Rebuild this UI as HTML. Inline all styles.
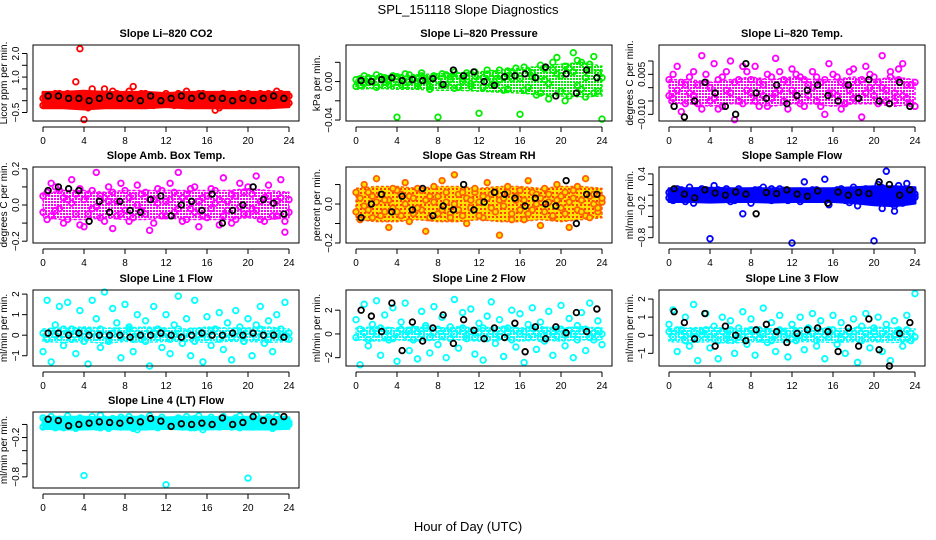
<!DOCTYPE html>
<html><head><meta charset="utf-8"><style>
html,body{margin:0;padding:0;background:#fff;}
svg{display:block;font-family:"Liberation Sans",Arial,sans-serif;}
</style></head><body>
<svg id="chart" width="936" height="540" viewBox="0 0 936 540" xmlns="http://www.w3.org/2000/svg">
<defs>
<pattern id="rhpat" width="4" height="4" patternUnits="userSpaceOnUse"><rect width="4" height="4" fill="#ffe000"/><rect width="2" height="2" fill="#ff4000"/></pattern>
<pattern id="chk-green" width="3" height="3" patternUnits="userSpaceOnUse"><rect width="2" height="2" fill="#00ee00"/></pattern>
<pattern id="chk-magenta" width="3" height="3" patternUnits="userSpaceOnUse"><rect width="2" height="2" fill="#ff00ff"/></pattern>
<pattern id="chk-cyan" width="3" height="3" patternUnits="userSpaceOnUse"><rect width="2" height="2" fill="#00ffff"/></pattern>
</defs>
<text x="468" y="14" text-anchor="middle" font-size="13">SPL_151118  Slope Diagnostics</text>
<text x="468" y="531" text-anchor="middle" font-size="13">Hour of Day (UTC)</text>
</svg>
<script>
const hoursA = [0,0.4,0.8,1.2,1.6,2,2.4,2.8,3.2,3.6,4,4.4,4.8,5.2,5.6,6,6.4,6.8,7.2,7.6,8,8.4,8.8,9.2,9.6,10,10.4,10.8,11.2,11.6,12,12.4,12.8,13.2,13.6,14,14.4,14.8,15.2,15.6,16,16.4,16.8,17.2,17.6,18,18.4,18.8,19.2,19.6,20,20.4,20.8,21.2,21.6,22,22.4,22.8,23.2,23.6,24];
const hoursBlack = [0.5,1.5,2.5,3.5,4.5,5.5,6.5,7.5,8.5,9.5,10.5,11.5,12.5,13.5,14.5,15.5,16.5,17.5,18.5,19.5,20.5,21.5,22.5,23.5];
const hoursBand = [0,2,4,6,8,10,12,14,16,18,20,22,24];
const xTicks = [0,4,8,12,16,20,24];

const co2A = [0.1,-0.1,0.2,0.0,0.3,-0.2,0.1,0.2,-0.1,2.2,-0.8,0.3,0.5,0.0,0.2,-0.1,0.1,0.4,0.0,-0.2,0.2,0.1,0.6,-0.1,0.3,0.0,0.2,-0.2,0.1,0.0,0.3,-0.1,0.2,0.0,0.1,0.4,-0.2,0.1,0.0,0.3,-0.1,0.2,0.1,-0.3,0.0,0.2,0.1,-0.1,0.3,0.0,0.2,-0.1,0.1,0.3,0.0,-0.2,0.2,0.4,0.1,0.0,0.2];
const co2B = [-0.2,0.2,0.0,0.3,-0.1,0.1,0.3,-0.2,0.8,0.0,0.1,-0.3,0.2,0.0,-0.1,0.5,0.2,-0.1,0.3,0.1,-0.1,0.4,0.0,0.2,-0.2,0.3,0.1,0.0,-0.1,0.2,0.0,0.2,-0.2,0.3,0.1,-0.1,0.2,0.0,0.3,-0.1,0.2,0.0,-0.4,0.1,0.3,-0.1,0.2,0.0,0.1,-0.2,0.3,0.1,-0.1,0.2,0.0,0.3,-0.1,0.1,0.3,0.1,-0.1];
const co2Black = [0.2,0.2,0.1,0.1,0.0,0.1,0.2,0.1,0.1,0.0,0.2,0.0,0.1,0.2,0.1,0.2,0.1,0.1,0.0,0.1,0.0,0.1,0.2,0.1];
const co2Lo = [-0.3,-0.3,-0.35,-0.3,-0.3,-0.3,-0.25,-0.3,-0.3,-0.3,-0.3,-0.3,-0.25];
const co2Hi = [0.35,0.35,0.4,0.35,0.35,0.35,0.3,0.35,0.35,0.35,0.35,0.35,0.35];

const presA = [-0.005,0.003,-0.002,0.004,0.000,-0.006,0.005,0.002,-0.003,0.006,-0.037,0.004,-0.004,0.007,0.002,-0.005,0.006,0.001,-0.008,0.004,-0.037,0.008,-0.003,0.005,0.010,-0.006,0.003,0.009,-0.002,0.006,-0.033,0.004,0.012,-0.004,0.008,0.002,-0.009,0.011,0.003,0.006,-0.034,0.015,-0.006,0.009,0.004,-0.012,0.013,-0.002,0.020,0.008,-0.010,0.016,-0.015,0.010,0.022,-0.008,0.004,0.018,-0.012,0.009,-0.039];
const presB = [0.002,-0.004,0.006,-0.001,0.003,0.007,-0.003,0.004,0.001,-0.002,0.005,-0.003,0.008,0.000,0.004,-0.002,0.009,0.003,-0.005,0.006,0.001,-0.004,0.007,0.002,-0.007,0.006,0.000,0.005,-0.005,0.010,0.002,-0.006,0.007,0.003,-0.003,0.012,0.004,-0.008,0.009,0.014,0.003,-0.009,0.011,0.005,-0.014,0.017,0.002,-0.018,0.012,0.025,0.006,-0.020,0.014,0.030,-0.004,0.020,-0.016,0.012,0.026,-0.010,0.004];
const presBlack = [0.001,0.000,0.002,0.004,0.001,0.002,0.001,0.003,-0.003,0.012,0.006,0.010,0.000,-0.004,0.005,0.006,0.008,0.004,0.015,-0.015,0.008,-0.012,0.012,0.004];
const presLo = [-0.008,-0.007,-0.008,-0.008,-0.009,-0.009,-0.01,-0.011,-0.012,-0.014,-0.015,-0.016,-0.015];
const presHi = [0.005,0.006,0.006,0.007,0.008,0.009,0.01,0.012,0.014,0.016,0.018,0.02,0.016];

const tempA = [0.003,-0.004,0.008,-0.009,0.001,-0.002,0.006,-0.006,0.012,0.002,-0.005,0.009,-0.008,0.004,-0.001,0.010,-0.012,0.003,-0.006,0.006,-0.002,0.008,-0.007,0.001,0.005,-0.004,0.011,-0.001,0.003,-0.008,0.007,-0.003,0.004,-0.007,0.001,0.006,-0.005,0.002,-0.010,0.009,-0.002,0.004,-0.008,0.001,0.006,-0.004,0.002,-0.011,0.008,0.000,0.004,-0.006,0.012,-0.001,0.006,-0.005,0.003,0.009,-0.004,0.001,-0.007];
const tempB = [-0.003,0.005,-0.001,0.002,-0.006,0.004,-0.003,0.001,-0.008,0.005,0.000,-0.004,0.003,-0.007,0.006,-0.002,0.002,-0.005,0.008,-0.001,0.003,-0.005,0.002,-0.003,-0.007,0.004,-0.002,0.006,-0.005,0.002,-0.001,0.005,-0.006,0.003,-0.003,0.000,0.004,-0.007,0.003,-0.002,0.005,-0.003,0.002,-0.006,-0.001,0.007,-0.004,0.003,-0.002,0.005,-0.003,0.002,0.000,-0.005,0.004,-0.002,0.007,-0.003,0.001,-0.006,0.002];
const tempBlack = [-0.007,-0.011,-0.005,0.002,-0.002,-0.007,-0.010,0.009,-0.002,-0.004,0.001,-0.006,-0.003,-0.001,0.001,-0.003,-0.005,0.001,-0.004,0.003,-0.005,-0.006,0.002,-0.007];
const tempLo = [-0.006,-0.006,-0.007,-0.006,-0.006,-0.007,-0.006,-0.006,-0.007,-0.006,-0.006,-0.007,-0.006];
const tempHi = [0.003,0.003,0.002,0.003,0.004,0.003,0.004,0.003,0.003,0.004,0.003,0.004,0.003];

const ambA = [0.05,-0.08,0.12,-0.03,0.08,-0.10,0.03,0.14,-0.05,0.09,-0.12,0.06,-0.02,0.18,-0.07,0.04,0.10,-0.13,0.02,-0.05,0.08,-0.09,0.05,0.11,-0.03,0.07,-0.14,0.03,0.09,-0.06,0.02,0.12,-0.04,0.18,-0.09,0.06,-0.02,0.10,-0.12,0.04,-0.07,0.09,0.01,-0.11,0.15,-0.03,0.06,-0.08,0.12,-0.05,0.10,-0.02,0.16,-0.08,0.04,0.11,-0.06,0.02,0.14,-0.09,-0.04];
const ambB = [-0.04,0.07,-0.06,0.10,-0.02,0.04,-0.08,0.01,0.06,-0.11,0.03,-0.05,0.08,-0.01,0.05,-0.09,0.02,0.07,-0.06,0.12,-0.03,0.04,-0.07,0.00,0.06,-0.05,0.03,-0.10,0.01,0.08,-0.06,0.03,0.07,-0.02,0.04,-0.08,0.09,-0.04,0.02,-0.06,0.05,-0.02,0.08,0.03,-0.06,0.02,-0.10,0.05,-0.01,0.07,-0.05,0.06,-0.03,0.02,-0.09,0.05,0.01,-0.06,0.04,-0.15,0.03];
const ambBlack = [0.08,0.10,0.09,0.08,-0.09,0.02,-0.04,0.02,-0.03,-0.04,0.03,0.05,-0.06,0.00,0.02,-0.03,0.06,-0.10,-0.03,0.00,0.10,0.03,0.01,-0.05];
const ambLo = [-0.07,-0.08,-0.08,-0.07,-0.08,-0.08,-0.07,-0.08,-0.08,-0.08,-0.07,-0.08,-0.07];
const ambHi = [0.06,0.08,0.08,0.07,0.08,0.08,0.08,0.08,0.08,0.08,0.09,0.08,0.07];

const rhA = [0.06,-0.08,0.10,-0.03,0.04,0.13,-0.06,0.02,-0.12,0.08,-0.04,0.05,0.11,-0.09,0.03,-0.02,0.07,-0.14,0.04,0.09,-0.05,0.12,0.01,-0.07,0.15,-0.03,0.06,-0.10,0.02,0.08,-0.06,0.04,0.11,-0.02,0.06,-0.16,0.03,0.09,-0.05,0.02,0.07,-0.08,0.12,-0.03,0.05,-0.11,0.08,0.01,-0.06,0.10,-0.02,0.06,-0.12,0.03,0.09,-0.04,0.13,-0.07,0.05,-0.02,0.03];
const rhB = [-0.04,0.03,-0.01,0.06,-0.07,0.01,0.05,-0.04,0.02,-0.02,0.07,-0.06,0.00,0.04,-0.05,0.08,-0.03,0.02,-0.07,0.01,0.04,-0.03,0.06,-0.05,0.00,0.05,-0.06,0.03,-0.02,0.06,0.01,-0.07,0.03,0.05,-0.04,0.02,-0.01,0.06,-0.08,0.04,-0.03,0.02,-0.05,0.06,0.00,0.03,-0.04,0.05,-0.07,0.02,0.04,-0.05,0.01,0.07,-0.03,0.02,-0.06,0.04,0.00,-0.04,0.01];
const rhBlack = [-0.07,0.00,0.05,-0.04,0.04,-0.03,0.08,-0.06,-0.01,-0.03,0.10,-0.03,0.01,0.06,0.05,0.03,-0.01,0.03,0.00,-0.01,0.12,-0.10,0.05,0.05];
const rhLo = [-0.08,-0.09,-0.09,-0.08,-0.09,-0.09,-0.08,-0.09,-0.09,-0.08,-0.09,-0.08,-0.07];
const rhHi = [0.08,0.09,0.09,0.08,0.09,0.09,0.08,0.09,0.09,0.08,0.09,0.09,0.08];

const sampA = [0.05,-0.10,0.12,-0.05,0.02,0.15,-0.15,0.08,-0.02,0.10,-0.82,0.18,-0.08,0.05,0.12,-0.12,0.02,0.08,-0.35,0.04,-0.15,0.10,-0.05,0.15,0.00,-0.10,0.08,0.12,-0.06,0.03,-0.90,0.06,-0.12,0.25,0.02,0.10,-0.08,0.05,0.30,-0.18,0.08,-0.05,0.12,-0.10,0.04,0.15,-0.20,0.08,0.02,-0.12,-0.86,0.20,-0.25,0.45,0.05,-0.30,0.18,-0.15,0.22,-0.08,0.02];
const sampB = [-0.05,0.08,-0.02,0.10,-0.12,0.04,0.06,-0.08,0.12,-0.04,0.02,-0.06,0.10,-0.02,0.06,0.00,-0.10,0.12,0.03,-0.05,0.08,-0.02,0.10,-0.08,0.05,0.12,-0.04,0.02,0.09,-0.10,0.04,-0.06,0.08,0.00,-0.08,0.05,0.10,-0.04,0.02,0.06,-0.06,0.10,-0.02,0.05,-0.14,0.08,0.02,-0.06,0.12,-0.02,0.05,-0.10,0.14,-0.06,0.08,-0.20,0.04,0.10,-0.12,0.06,-0.04];
const sampBlack = [0.12,0.02,-0.05,0.10,0.04,0.00,0.06,0.02,-0.35,0.05,0.03,0.10,0.02,-0.02,0.08,-0.15,0.06,0.00,0.05,0.03,0.25,0.20,0.00,0.10];
const sampLo = [-0.12,-0.12,-0.13,-0.12,-0.12,-0.13,-0.12,-0.12,-0.12,-0.14,-0.18,-0.2,-0.15];
const sampHi = [0.12,0.12,0.13,0.12,0.12,0.12,0.12,0.12,0.12,0.14,0.16,0.16,0.14];

const l1A = [-0.8,1.7,-1.3,0.5,1.4,-0.5,1.6,0.3,-0.9,1.2,0.2,-1.4,1.7,0.8,-0.6,2.1,-0.3,1.3,0.6,-1.1,1.5,0.4,-0.8,1.0,-0.2,0.7,-1.5,1.4,0.3,-0.6,1.0,-0.9,0.5,1.9,-0.4,0.8,-1.0,1.7,0.2,-1.3,0.9,-0.5,0.3,1.1,-0.7,0.6,-1.2,1.2,0.4,-0.3,0.8,-1.0,0.5,1.4,-0.4,0.7,-0.8,1.0,0.3,1.6,-0.2];
const l1B = [0.1,-0.2,0.2,0.0,-0.1,0.3,0.1,-0.2,0.2,0.0,-0.3,0.2,0.1,-0.1,0.3,0.0,-0.2,0.1,0.2,-0.1,0.0,0.3,-0.2,0.1,0.0,-0.3,0.2,0.1,-0.1,0.2,0.1,-0.2,0.0,0.3,-0.1,0.1,0.2,-0.3,0.0,0.1,-0.1,0.2,0.3,-0.2,0.0,0.1,-0.1,0.2,0.0,-0.3,0.2,0.1,-0.1,0.3,0.0,-0.2,0.1,0.2,-0.1,0.0,0.1];
const l1Black = [0.1,0.1,0.0,0.1,0.0,0.0,0.0,0.0,-0.1,0.0,0.0,0.1,0.0,-0.1,0.0,0.1,0.0,0.0,0.1,0.0,0.1,0.0,0.0,-0.1];
const l1Lo = [-0.3,-0.35,-0.3,-0.4,-0.3,-0.35,-0.3,-0.3,-0.35,-0.3,-0.3,-0.35,-0.3];
const l1Hi = [0.3,0.35,0.4,0.35,0.35,0.4,0.35,0.3,0.4,0.35,0.35,0.4,0.3];

const l2A = [1.2,-2.6,2.5,-1.0,0.8,2.8,-1.8,1.6,-0.5,2.2,-2.3,1.0,2.6,-1.4,0.4,-2.1,1.9,0.7,-1.6,2.3,-0.9,1.4,-2.0,0.6,2.9,-1.2,1.8,-0.4,2.1,-1.7,0.9,-2.2,1.5,2.7,-0.8,1.2,-1.9,0.5,2.0,-1.1,1.7,-2.4,0.8,2.2,-1.3,1.0,-0.6,1.9,-1.8,0.4,2.4,-1.0,1.3,-2.0,0.7,1.8,-1.4,2.6,-0.5,1.1,-0.9];
const l2B = [-0.3,0.4,0.1,-0.5,0.2,0.0,0.5,-0.2,0.3,-0.4,0.1,0.4,-0.1,0.3,-0.5,0.2,0.0,0.5,-0.3,0.1,0.4,-0.2,0.2,-0.4,0.0,0.3,0.5,-0.1,0.2,-0.3,0.1,0.5,-0.4,0.2,0.0,-0.2,0.4,0.1,-0.5,0.3,0.0,0.2,-0.3,0.5,0.1,-0.4,0.3,0.0,0.2,-0.2,0.4,-0.1,0.3,0.0,-0.5,0.2,0.4,-0.3,0.1,0.3,0.0];
const l2Black = [2.0,1.5,0.2,2.6,-1.4,1.0,-0.6,0.5,1.6,-0.8,1.2,0.3,-0.4,0.5,-0.3,0.9,-1.5,0.6,-0.4,0.6,0.1,1.8,0.2,2.1];
const l2Lo = [-0.5,-0.6,-0.5,-0.6,-0.5,-0.5,-0.6,-0.5,-0.6,-0.5,-0.6,-0.5,-0.5];
const l2Hi = [0.5,0.6,0.5,0.6,0.5,0.6,0.5,0.6,0.5,0.6,0.5,0.6,0.5];

const l3A = [0.6,1.4,-0.9,0.3,1.0,-0.6,1.7,-1.4,0.2,1.2,-0.7,0.5,-1.3,1.0,-0.2,0.8,-1.0,0.4,1.3,-0.5,0.9,-1.1,0.3,1.5,-0.4,0.7,-0.9,1.1,0.2,-1.2,0.6,-0.3,1.0,-0.8,0.4,1.2,-0.6,0.8,-1.3,0.3,1.1,-0.5,0.7,-1.0,0.2,0.9,-1.5,0.5,1.2,-0.7,0.4,1.0,-0.9,0.6,-1.4,0.8,0.3,-0.6,1.1,-0.3,2.3];
const l3B = [0.2,-0.1,0.3,0.0,-0.3,0.1,0.2,-0.2,0.0,0.3,-0.1,0.1,-0.3,0.2,0.0,0.3,-0.2,0.1,-0.1,0.2,0.3,0.0,-0.2,0.1,0.2,-0.3,0.0,0.3,-0.1,0.1,-0.2,0.2,0.0,-0.1,0.3,0.1,-0.3,0.2,0.0,-0.1,0.3,0.1,-0.2,0.0,0.2,-0.1,0.3,-0.3,0.1,0.0,0.2,-0.2,0.1,0.3,-0.1,0.0,0.2,-0.2,0.3,0.1,-0.1];
const l3Black = [1.3,0.7,-0.2,1.2,-0.6,0.5,0.0,-0.3,0.3,0.6,0.2,-0.4,0.1,0.3,0.4,0.2,-0.9,0.4,-0.6,0.9,-0.8,-1.7,0.1,0.7];
const l3Lo = [-0.35,-0.4,-0.35,-0.45,-0.35,-0.4,-0.35,-0.35,-0.4,-0.35,-0.35,-0.4,-0.35];
const l3Hi = [0.35,0.4,0.45,0.35,0.4,0.35,0.4,0.45,0.35,0.4,0.45,0.4,0.35];

const l4A = [0.10,0.02,0.12,-0.05,0.08,0.00,0.13,-0.03,0.06,0.10,-0.78,0.05,0.12,-0.04,0.14,0.02,-0.06,0.09,0.01,0.11,-0.02,0.12,0.04,-0.08,0.10,0.03,0.13,-0.02,0.07,0.11,-0.92,0.06,-0.03,0.10,0.02,0.12,-0.05,0.09,0.13,-0.08,0.04,0.11,-0.02,0.08,0.12,0.00,-0.04,0.10,0.13,0.05,-0.82,0.09,0.14,-0.03,0.06,0.11,0.02,0.13,-0.01,0.08,0.03];
const l4B = [-0.04,0.06,-0.02,0.08,0.00,-0.05,0.05,0.02,-0.06,0.04,0.07,-0.03,0.01,0.06,-0.05,0.08,0.03,-0.02,0.05,-0.04,0.06,0.00,-0.06,0.04,0.01,-0.03,0.07,0.02,-0.05,0.03,0.05,-0.02,0.06,0.00,-0.04,0.03,0.08,-0.05,0.02,0.05,-0.03,0.06,0.01,-0.04,0.04,0.07,-0.02,0.03,-0.05,0.06,0.02,-0.04,0.05,0.08,-0.01,0.03,-0.06,0.06,0.02,-0.02,0.00];
const l4Black = [0.08,0.06,-0.02,0.00,0.02,0.04,0.03,0.02,0.06,0.04,0.09,0.05,-0.03,0.01,0.00,0.02,0.00,0.10,0.00,0.03,0.12,0.06,0.04,0.12];
const l4Lo = [-0.06,-0.07,-0.07,-0.06,-0.07,-0.07,-0.06,-0.07,-0.07,-0.06,-0.07,-0.07,-0.06];
const l4Hi = [0.10,0.11,0.11,0.10,0.11,0.11,0.10,0.11,0.11,0.10,0.11,0.11,0.10];

const panels = [
 {id:'co2',title:'Slope Li\u2013820 CO2',ylab:'Licor ppm per min.',col:0,row:0,ymin:-0.86,ymax:2.36,ticks:[-0.5,0,0.5,1,1.5,2],labels:[-0.5,1,2],fmt:1,stroke:'#ff0000',fill:'none',band:'#ff0000',bw:3,a:co2A,b:co2B,k:co2Black,lo:co2Lo,hi:co2Hi},
 {id:'pressure',title:'Slope Li\u2013820 Pressure',ylab:'kPa per min.',col:1,row:0,ymin:-0.041,ymax:0.038,ticks:[-0.04,-0.02,0,0.02],labels:[-0.04,0],fmt:2,stroke:'#00ee00',fill:'none',band:'url(#chk-green)',bw:1.5,a:presA,b:presB,k:presBlack,lo:presLo,hi:presHi},
 {id:'temp',title:'Slope Li\u2013820 Temp.',ylab:'degrees C per min.',col:2,row:0,ymin:-0.0125,ymax:0.016,ticks:[-0.01,-0.005,0,0.005,0.01],labels:[-0.01,0.005],fmt:3,stroke:'#ff00ff',fill:'none',band:'url(#chk-magenta)',bw:1.5,a:tempA,b:tempB,k:tempBlack,lo:tempLo,hi:tempHi},
 {id:'amb-box',title:'Slope Amb. Box Temp.',ylab:'degrees C per min.',col:0,row:1,ymin:-0.21,ymax:0.21,ticks:[-0.2,-0.1,0,0.1,0.2],labels:[-0.2,0,0.2],fmt:1,stroke:'#ff00ff',fill:'none',band:'url(#chk-magenta)',bw:1.5,a:ambA,b:ambB,k:ambBlack,lo:ambLo,hi:ambHi},
 {id:'gas-rh',title:'Slope Gas Stream RH',ylab:'percent per min.',col:1,row:1,ymin:-0.2,ymax:0.19,ticks:[-0.2,-0.1,0,0.1],labels:[-0.2,0],fmt:1,stroke:'#ff6000',fill:'#ffe000',band:'url(#rhpat)',bw:1.5,a:rhA,b:rhB,k:rhBlack,lo:rhLo,hi:rhHi},
 {id:'sample-flow',title:'Slope Sample Flow',ylab:'ml/min per min.',col:2,row:1,ymin:-0.9,ymax:0.53,ticks:[-0.8,-0.6,-0.4,-0.2,0,0.2,0.4],labels:[-0.8,-0.2,0.4],fmt:1,stroke:'#0000ff',fill:'none',band:'#0000ff',bw:3,a:sampA,b:sampB,k:sampBlack,lo:sampLo,hi:sampHi},
 {id:'line1',title:'Slope Line 1 Flow',ylab:'ml/min per min.',col:0,row:2,ymin:-1.5,ymax:2.2,ticks:[-1,0,1,2],labels:[-1,0,1,2],fmt:0,stroke:'#00ffff',fill:'none',band:'url(#chk-cyan)',bw:1.5,a:l1A,b:l1B,k:l1Black,lo:l1Lo,hi:l1Hi},
 {id:'line2',title:'Slope Line 2 Flow',ylab:'ml/min per min.',col:1,row:2,ymin:-2.7,ymax:3.7,ticks:[-2,0,2],labels:[-2,0,2],fmt:0,stroke:'#00ffff',fill:'none',band:'url(#chk-cyan)',bw:1.5,a:l2A,b:l2B,k:l2Black,lo:l2Lo,hi:l2Hi},
 {id:'line3',title:'Slope Line 3 Flow',ylab:'ml/min per min.',col:2,row:2,ymin:-1.7,ymax:2.5,ticks:[-1,0,1,2],labels:[-1,0,1,2],fmt:0,stroke:'#00ffff',fill:'none',band:'url(#chk-cyan)',bw:1.5,a:l3A,b:l3B,k:l3Black,lo:l3Lo,hi:l3Hi},
 {id:'line4',title:'Slope Line 4 (LT) Flow',ylab:'ml/min per min.',col:0,row:3,ymin:-0.97,ymax:0.19,ticks:[-0.8,-0.6,-0.4,-0.2,0],labels:[-0.8,-0.2],fmt:1,stroke:'#00ffff',fill:'none',band:'#00ffff',bw:3,a:l4A,b:l4B,k:l4Black,lo:l4Lo,hi:l4Hi}
];

const svg = document.getElementById('chart');
const NS = 'http://www.w3.org/2000/svg';
const colLeft = [33,346,659], rowTop = [45,167,290,412];
const W = 266, H = 76;
function mk(tag, attrs, parent){const e=document.createElementNS(NS,tag);for(const k in attrs)e.setAttribute(k,attrs[k]);parent.appendChild(e);return e;}
function fmtNum(v,d){const s=v.toFixed(d);return v<0?'\u2212'+s.slice(1):s;}

panels.forEach(p=>{
  const L=colLeft[p.col], T=rowTop[p.row];
  const g=mk('g',{},svg);
  
  
  const xs=h=>L+10+h/24*(W-20);
  const ys=v=>T+H-(v-p.ymin)/(p.ymax-p.ymin)*H;
  const t=mk('text',{x:L+W/2,y:T-8,'text-anchor':'middle','font-size':'11','font-weight':'bold'},g);
  
  
  t.textContent=p.title;
  const n=Math.min(p.lo.length,p.hi.length,hoursBand.length);
  let d='';
  for(let i=0;i<n;i++) d+=(i?'L':'M')+xs(hoursBand[i]).toFixed(1)+' '+ys(p.hi[i]).toFixed(1);
  for(let i=n-1;i>=0;i--) d+='L'+xs(hoursBand[i]).toFixed(1)+' '+ys(p.lo[i]).toFixed(1);
  d+='Z';
  const band=mk('path',{d:d,fill:p.band,stroke:p.stroke,'stroke-width':p.bw,'stroke-linejoin':'round','stroke-dasharray':p.bw<2?'3 2':'none'},g);
  
  
  const pts=mk('g',{},g);
  
  
  [p.b,p.a].forEach(arr=>{
    const m=Math.min(arr.length,hoursA.length);
    for(let i=0;i<m;i++){
      const c=mk('circle',{cx:xs(hoursA[i]),cy:ys(arr[i]),r:2.8,fill:p.fill,stroke:p.stroke,'stroke-width':1.8},pts);
      
      
    }
  });
  const nk=Math.min(p.k.length,hoursBlack.length);
  for(let i=0;i<nk;i++){
    const c=mk('circle',{cx:xs(hoursBlack[i]),cy:ys(p.k[i]),r:2.8,fill:'none',stroke:'#000','stroke-width':1.8},pts);
    
    
  }
  const b=mk('rect',{x:L,y:T,width:W,height:H,fill:'none',stroke:'#000','stroke-width':1},g);
  
  
  const xa=mk('g',{},g);
  
  
  mk('line',{x1:xs(xTicks[0]),x2:xs(xTicks[xTicks.length-1]),y1:T+H+6,y2:T+H+6,stroke:'#000'},xa);
  xTicks.forEach(v=>{
    mk('line',{x1:xs(v),x2:xs(v),y1:T+H+6,y2:T+H+11,stroke:'#000'},xa);
    const tl=mk('text',{x:xs(v),y:T+H+23,'text-anchor':'middle','font-size':'10'},xa);
    
    
    tl.textContent=v;
  });
  const ya=mk('g',{},g);
  
  
  mk('line',{x1:L-6,x2:L-6,y1:ys(p.ticks[0]),y2:ys(p.ticks[p.ticks.length-1]),stroke:'#000'},ya);
  p.ticks.forEach(v=>{mk('line',{x1:L-11,x2:L-6,y1:ys(v),y2:ys(v),stroke:'#000'},ya);});
  p.labels.forEach(v=>{
    const x=L-14,y=ys(v);
    const tl=mk('text',{x:x,y:y,'text-anchor':'middle','font-size':'10',transform:'rotate(-90 '+x+' '+y+')'},ya);
    
    
    tl.textContent=fmtNum(v,p.fmt);
  });
  const yx=L-26, yy=T+H/2;
  const yl=mk('text',{x:yx,y:yy,'text-anchor':'middle','font-size':'10',transform:'rotate(-90 '+yx+' '+yy+')'},ya);
  
  
  yl.textContent=p.ylab;
});
</script>
</body></html>
